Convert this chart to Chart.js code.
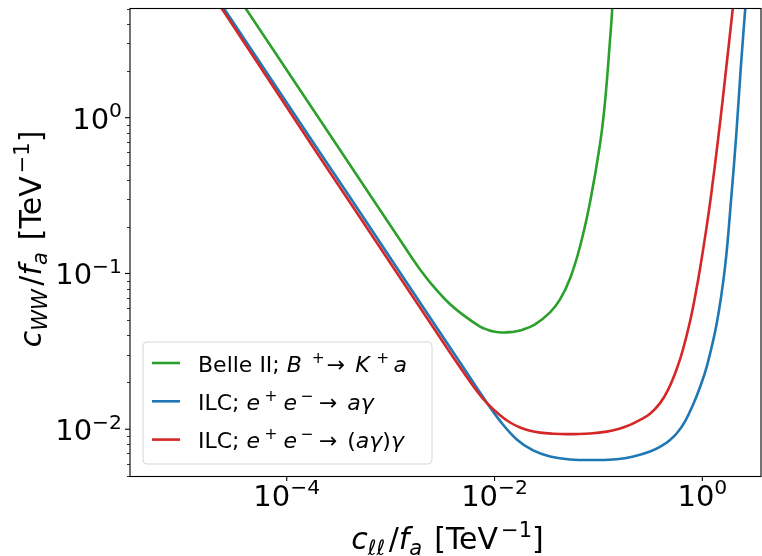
<!DOCTYPE html>
<html>
<head>
  <meta charset="UTF-8">
  <title>c_WW vs c_ll sensitivity</title>

  <style type="text/css">
    html, body { margin: 0; padding: 0; background: #fff; }
    #chart-container { width: 762px; height: 556px; }
  </style>

  <script type="text/javascript" src="https://cdn.jsdelivr.net/npm/chart.js@4.4.1/dist/chart.umd.min.js"></script>
</head>

<body>

<div id="chart-container">
  <canvas id="mycanvas"></canvas>
</div>

<script>
// values (both axes logarithmic, TeV^-1)
var belleX = [3.40e-5, 4.03e-5, 1.343e-4, 3.26e-4, 6.82e-4, 1.377e-3, 1.643e-3, 1.919e-3, 2.395e-3, 3.468e-3,
              4.977e-3, 7.256e-3, 8.66e-3, 1.012e-2, 1.181e-2, 1.410e-2, 1.760e-2, 2.455e-2, 3.42e-2, 4.27e-2,
              5.33e-2, 6.65e-2, 8.31e-2, 0.1036, 0.1158, 0.1293, 0.1358, 0.1392];
var belleY = [5.95, 5.02, 1.506, 0.620, 0.296, 0.1468, 0.1230, 0.1061, 0.0876, 0.0666,
              0.0542, 0.0456, 0.0434, 0.0422, 0.0418, 0.0420, 0.0430, 0.0471, 0.0562, 0.0681,
              0.0929, 0.1490, 0.2876, 0.678, 1.270, 3.153, 5.02, 7.65];

var ilcX = [2.09e-5, 2.49e-5, 2.01e-4, 4.23e-4, 1.23e-3, 3.87e-3, 5.32e-3, 7.80e-3, 1.130e-2, 1.637e-2,
            2.35e-2, 3.42e-2, 5.33e-2, 9.64e-2, 0.150, 0.217, 0.314, 0.419, 0.489, 0.568,
            0.682, 0.820, 0.951, 1.103, 1.377, 1.655, 1.890, 2.126, 2.349, 2.589, 2.659];
var ilcY = [6.00, 5.02, 0.620, 0.296, 0.1015, 0.0323, 0.0235, 0.0160, 0.01131, 0.00860,
            0.00731, 0.00669, 0.00640, 0.00635, 0.00642, 0.00669, 0.00720, 0.00793, 0.00854, 0.00942,
            0.01125, 0.01454, 0.01868, 0.02522, 0.0479, 0.1106, 0.296, 0.794, 2.125, 5.02, 6.41];

var ilc2X = [1.99e-5, 2.37e-5, 1.87e-4, 3.92e-4, 3.59e-3, 5.32e-3, 6.64e-3, 8.41e-3, 1.130e-2, 1.410e-2,
             1.760e-2, 2.197e-2, 2.74e-2, 3.66e-2, 4.95e-2, 8.31e-2, 0.1202, 0.1614, 0.2015, 0.2516,
             0.3139, 0.3918, 0.4678, 0.567, 0.6522, 0.762, 0.851, 0.951, 1.086, 1.213,
             1.426, 1.655, 1.963, 2.020];
var ilc2Y = [6.00, 5.02, 0.620, 0.296, 0.0323, 0.0220, 0.01788, 0.01475, 0.01230, 0.01105,
             0.01027, 0.00978, 0.00951, 0.00936, 0.00930, 0.00940, 0.00965, 0.01012, 0.01066, 0.01147,
             0.01258, 0.01471, 0.01788, 0.02434, 0.03263, 0.0493, 0.0709, 0.1077, 0.1883, 0.3166,
             0.7506, 1.785, 5.02, 6.04];

// axis limits and ticks
var xMin = 3.10e-6, xMax = 3.67;
var yMin = 0.00501, yMax = 5.06;
var xTicks = [1e-4, 1e-2, 1];
var xTickExp = ['\u22124', '\u22122', '0'];
var yTicks = [1e-2, 1e-1, 1];
var yTickExp = ['\u22122', '\u22121', '0'];
var yMinorTicks = [0.005, 0.006, 0.007, 0.008, 0.009,
                   0.02, 0.03, 0.04, 0.05, 0.06, 0.07, 0.08, 0.09,
                   0.2, 0.3, 0.4, 0.5, 0.6, 0.7, 0.8, 0.9,
                   2, 3, 4, 5];

// labels as [text, style] pieces: n = upright, i = italic, sub = italic subscript,
// sup = superscript, sp = extra space in em
var belleLabel = [['Belle II; ', 'n'], ['B', 'i'], [0.45, 'sp'], ['+', 'sup'], [0.1, 'sp'], ['\u2192', 'n'], [0.45, 'sp'],
                  ['K', 'i'], [0.3, 'sp'], ['+', 'sup'], [0.2, 'sp'], ['a', 'i']];
var ilcLabel = [['ILC; ', 'n'], ['e', 'i'], [0.2, 'sp'], ['+', 'sup'], [0.28, 'sp'], ['e', 'i'], [0.17, 'sp'],
                ['\u2212', 'sup'], [0.24, 'sp'], ['\u2192', 'n'], [0.45, 'sp'], ['a\u03b3', 'i']];
var ilc2Label = [['ILC; ', 'n'], ['e', 'i'], [0.2, 'sp'], ['+', 'sup'], [0.28, 'sp'], ['e', 'i'], [0.17, 'sp'],
                 ['\u2212', 'sup'], [0.24, 'sp'], ['\u2192', 'n'], [0.45, 'sp'], ['(', 'n'], ['a\u03b3', 'i'], [')', 'n'], ['\u03b3', 'i']];
var xTitle = [['c', 'i'], ['\u2113\u2113', 'sub'], [0.12, 'sp'], ['/', 'n'], ['f', 'i'], ['a', 'sub'], [0.08, 'sp'],
              [' [TeV', 'n'], [0.1, 'sp'], ['\u22121', 'sup'], [']', 'n']];
var yTitle = [['c', 'i'], ['WW', 'sub'], [0.12, 'sp'], ['/', 'n'], ['f', 'i'], ['a', 'sub'], [0.08, 'sp'],
              [' [TeV', 'n'], [0.1, 'sp'], ['\u22121', 'sup'], [']', 'n']];

var green = '#2ca02c', blue = '#1f77b4', red = '#d62728';

function toPoints(xs, ys) {
  var pts = [];
  for (var i = 0; i < xs.length; i++) pts.push({x: xs[i], y: ys[i]});
  return pts;
}

function drawRich(ctx, segs, x, y, size, align) {
  var parts = segs.map(function (s) {
    var st = s[1];
    if (st === 'sp') return {t: '', font: null, dy: 0, w: s[0] * size};
    var small = (st === 'sub' || st === 'sup');
    var fs = small ? size * 0.7 : size;
    var font = ((st === 'i' || st === 'sub') ? 'italic ' : '') + fs + 'px "DejaVu Sans"';
    ctx.font = font;
    var dy = st === 'sub' ? size * 0.2 : (st === 'sup' ? -size * 0.4 : 0);
    return {t: s[0], font: font, dy: dy, w: ctx.measureText(s[0]).width};
  });
  var total = 0;
  parts.forEach(function (p) { total += p.w; });
  var cx = x;
  if (align === 'center') cx = x - total / 2;
  else if (align === 'right') cx = x - total;
  ctx.textAlign = 'left';
  ctx.textBaseline = 'alphabetic';
  parts.forEach(function (p) {
    if (p.font) {
      ctx.font = p.font;
      ctx.fillText(p.t, cx, y + p.dy);
    }
    cx += p.w;
  });
}

var axisDecor = {
  id: 'axisDecor',
  afterDraw: function (chart) {
    var ctx = chart.ctx, a = chart.chartArea;
    var xs = chart.scales.x, ys = chart.scales.y;
    ctx.save();
    ctx.fillStyle = '#000';
    ctx.strokeStyle = '#000';

    // minor y ticks
    ctx.lineWidth = 0.8;
    yMinorTicks.forEach(function (v) {
      var py = Math.round(ys.getPixelForValue(v)) + 0.5;
      ctx.beginPath(); ctx.moveTo(a.left, py); ctx.lineTo(a.left - 3, py); ctx.stroke();
    });
    // major ticks + labels
    ctx.lineWidth = 1.1;
    yTicks.forEach(function (v, i) {
      var py = ys.getPixelForValue(v);
      ctx.beginPath(); ctx.moveTo(a.left, py); ctx.lineTo(a.left - 5, py); ctx.stroke();
      drawRich(ctx, [['10', 'n'], [yTickExp[i], 'sup']], a.left - 8, py + 11, 29, 'right');
    });
    xTicks.forEach(function (v, i) {
      var px = xs.getPixelForValue(v);
      ctx.beginPath(); ctx.moveTo(px, a.bottom); ctx.lineTo(px, a.bottom + 5); ctx.stroke();
      drawRich(ctx, [['10', 'n'], [xTickExp[i], 'sup']], px, a.bottom + 30, 29, 'center');
    });

    // frame
    ctx.lineWidth = 1.1;
    ctx.strokeRect(a.left, a.top + 0.5, a.right - a.left, a.bottom - a.top);

    // axis titles
    drawRich(ctx, xTitle, (a.left + a.right) / 2 + 2, 549, 30, 'center');
    ctx.save();
    ctx.translate(41, (a.top + a.bottom) / 2 - 3);
    ctx.rotate(-Math.PI / 2);
    drawRich(ctx, yTitle, 0, 0, 30, 'center');
    ctx.restore();

    // legend
    var bx = a.left + 13, by = a.bottom - 134, bw = 289, bh = 122, r = 4;
    ctx.beginPath();
    ctx.moveTo(bx + r, by);
    ctx.arcTo(bx + bw, by, bx + bw, by + bh, r);
    ctx.arcTo(bx + bw, by + bh, bx, by + bh, r);
    ctx.arcTo(bx, by + bh, bx, by, r);
    ctx.arcTo(bx, by, bx + bw, by, r);
    ctx.closePath();
    ctx.fillStyle = 'rgba(255,255,255,0.8)';
    ctx.fill();
    ctx.strokeStyle = '#d6d6d6';
    ctx.lineWidth = 1;
    ctx.stroke();

    var rows = [[green, belleLabel], [blue, ilcLabel], [red, ilc2Label]];
    rows.forEach(function (row, i) {
      var ry = by + 21 + i * 38.3;
      ctx.strokeStyle = row[0];
      ctx.lineWidth = 2.6;
      ctx.beginPath(); ctx.moveTo(bx + 9, ry); ctx.lineTo(bx + 37, ry); ctx.stroke();
      ctx.fillStyle = '#000';
      drawRich(ctx, row[1], bx + 55, ry + 8.5, 22, 'left');
    });
    ctx.restore();
  }
};

var lineStyle = {
  borderWidth: 2.6,
  pointRadius: 0,
  fill: false,
  tension: 0.4,
  capBezierPoints: false,
  clip: 0
};

var ctx = document.getElementById('mycanvas');
var chart = new Chart(ctx, {
  type: 'line',
  data: {
    datasets: [
      Object.assign({label: 'Belle II; B\u207a\u2192 K\u207aa', data: toPoints(belleX, belleY),
                     borderColor: green, backgroundColor: green, order: 3}, lineStyle),
      Object.assign({label: 'ILC; e\u207ae\u207b\u2192 a\u03b3', data: toPoints(ilcX, ilcY),
                     borderColor: blue, backgroundColor: blue, order: 2}, lineStyle),
      Object.assign({label: 'ILC; e\u207ae\u207b\u2192 (a\u03b3)\u03b3', data: toPoints(ilc2X, ilc2Y),
                     borderColor: red, backgroundColor: red, order: 1}, lineStyle)
    ]
  },
  options: {
    responsive: true,
    maintainAspectRatio: false,
    animation: false,
    layout: { padding: { left: 130, top: 8, right: 1, bottom: 80 } },
    plugins: {
      legend: { display: false },
      tooltip: { enabled: false }
    },
    scales: {
      x: { type: 'logarithmic', display: false, min: xMin, max: xMax, bounds: 'data' },
      y: { type: 'logarithmic', display: false, min: yMin, max: yMax, bounds: 'data' }
    }
  },
  plugins: [axisDecor]
});
</script>

</body>
</html>
